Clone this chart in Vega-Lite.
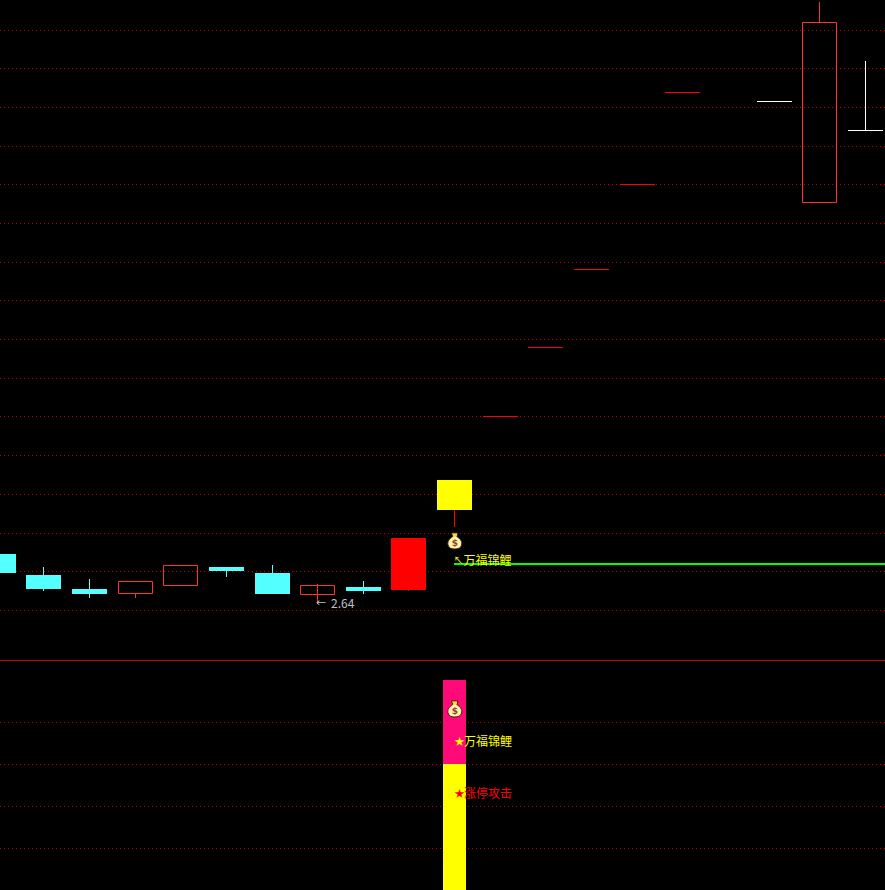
{"$schema":"https://vega.github.io/schema/vega-lite/v6.json","width":885,"height":890,"padding":0,"autosize":"none","background":"#000000","config":{"view":{"stroke":null}},
"datasets":{
"grid":[{"level":859.5},{"level":821.5},{"level":782.5},{"level":743.5},{"level":705.5},{"level":666.5},{"level":627.5},{"level":589.5},{"level":550.5},{"level":511.5},{"level":473.5},{"level":434.5},{"level":395.5},{"level":356.5},{"level":318.5},{"level":279.5},{"level":167.5},{"level":125.5},{"level":83.5},{"level":41.5}],
"candles":[
{"pos":-1.5,"open":336,"close":317,"kind":"fall"},
{"pos":43.5,"open":315,"close":301,"high":323,"low":299,"kind":"fall"},
{"pos":89.5,"open":301,"close":296,"high":311,"low":292,"kind":"fall"},
{"pos":135.5,"open":296.5,"close":308.5,"high":297,"low":292,"kind":"rise"},
{"pos":180.5,"open":304.5,"close":324.5,"kind":"rise"},
{"pos":226.5,"open":323,"close":319,"high":323,"low":313,"kind":"fall"},
{"pos":272.5,"open":317,"close":296,"high":325,"low":317,"kind":"fall"},
{"pos":317.5,"open":295.5,"close":304.5,"high":306,"low":286,"kind":"rise"},
{"pos":363.5,"open":303,"close":299,"high":309,"low":296,"kind":"fall"},
{"pos":408.5,"open":300,"close":352,"high":300,"low":299,"kind":"limit"},
{"pos":454.5,"open":380,"close":410,"kind":"signal"},
{"pos":454.5,"high":380,"low":363,"kind":"limit"},
{"pos":500.5,"open":473,"close":474,"kind":"limit"},
{"pos":545.5,"open":542,"close":543,"kind":"limit"},
{"pos":591.5,"open":620,"close":621,"kind":"limit"},
{"pos":637.5,"open":705,"close":706,"kind":"limit"},
{"pos":682.5,"open":797,"close":798,"kind":"limit"},
{"pos":774.5,"open":788,"close":789,"kind":"flat"},
{"pos":819.5,"open":687.5,"close":867.5,"high":888,"low":868,"kind":"rise"},
{"pos":865.5,"open":759,"close":760,"high":829,"low":760,"kind":"flat"}],
"volume":[{"pos":454.5,"base":126,"top":210,"kind":"pink"},{"pos":454.5,"base":0,"top":126,"kind":"signal"}],
"labels":[{"pos":331,"level":286,"label":"2.64","kind":"note"},{"pos":463.5,"level":329,"label":"万福锦鲤","kind":"signal"},{"pos":464,"level":148,"label":"万福锦鲤","kind":"signal"},{"pos":464,"level":96,"label":"涨停攻击","kind":"limit"}],
"glyphs":[{"pos":316,"level":286,"label":"←","kind":"note"},{"pos":453.5,"level":329,"label":"↖","kind":"signal"},{"pos":454.5,"level":148,"label":"★","kind":"signal"},{"pos":454.5,"level":96,"label":"★","kind":"limit"}],
"bags":[{"pos":454.8,"level":349},{"pos":454.8,"level":181}]
},
"layer":[
{"data":{"name":"grid"},"mark":{"type":"rule","stroke":"#c00000","strokeWidth":1,"strokeDash":[1,3]},"encoding":{"y":{"field":"level","type":"quantitative","scale":{"domain":[0,890],"nice":false,"zero":false},"axis":null}}},
{"data":{"values":[{"level":229.5}]},"mark":{"type":"rule","stroke":"#c80000","strokeWidth":1},"encoding":{"y":{"field":"level","type":"quantitative"}}},
{"data":{"values":[{"pos":454,"end":885,"level":326,"kind":"trend"}]},"mark":{"type":"rule","strokeWidth":2},"encoding":{"x":{"field":"pos","type":"quantitative","scale":{"domain":[0,885],"nice":false,"zero":false,"padding":0},"axis":null},"x2":{"field":"end"},"y":{"field":"level","type":"quantitative"},"color":{"field":"kind","type":"nominal"}}},
{"data":{"name":"candles"},"transform":[{"filter":"isValid(datum.high)"}],"mark":{"type":"rule","strokeWidth":1,"clip":true},"encoding":{"x":{"field":"pos","type":"quantitative","scale":{"domain":[0,885],"nice":false,"zero":false,"padding":0}},"y":{"field":"high","type":"quantitative"},"y2":{"field":"low"},"color":{"field":"kind","type":"nominal"}}},
{"data":{"name":"candles"},"transform":[{"filter":"isValid(datum.open) && datum.kind !== 'rise'"}],"mark":{"type":"bar","size":35,"clip":true},"encoding":{"x":{"field":"pos","type":"quantitative","scale":{"domain":[0,885],"nice":false,"zero":false,"padding":0}},"y":{"field":"open","type":"quantitative"},"y2":{"field":"close"},"color":{"field":"kind","type":"nominal"}}},
{"data":{"name":"candles"},"transform":[{"filter":"datum.kind === 'rise'"}],"mark":{"type":"bar","size":34,"filled":false,"strokeWidth":1,"clip":true},"encoding":{"x":{"field":"pos","type":"quantitative","scale":{"domain":[0,885],"nice":false,"zero":false,"padding":0}},"y":{"field":"open","type":"quantitative"},"y2":{"field":"close"},"color":{"field":"kind","type":"nominal"}}},
{"data":{"name":"volume"},"mark":{"type":"bar","size":23},"encoding":{"x":{"field":"pos","type":"quantitative","scale":{"domain":[0,885],"nice":false,"zero":false,"padding":0}},"y":{"field":"base","type":"quantitative"},"y2":{"field":"top"},"color":{"field":"kind","type":"nominal","legend":null,"scale":{"domain":["fall","rise","limit","signal","flat","pink","note","trend"],"range":["#54ffff","#ff3232","#ff0000","#ffff00","#ffffff","#ff0a78","#c0c0c0","#00ff00"]}}}},
{"data":{"name":"labels"},"mark":{"type":"text","align":"left","baseline":"middle","font":"Noto Sans CJK SC","fontSize":12},"encoding":{"x":{"field":"pos","type":"quantitative","scale":{"domain":[0,885],"nice":false,"zero":false,"padding":0}},"y":{"field":"level","type":"quantitative"},"text":{"field":"label"},"color":{"field":"kind","type":"nominal"}}},
{"data":{"name":"glyphs"},"mark":{"type":"text","align":"left","baseline":"middle","font":"Noto Sans CJK SC","fontSize":10},"encoding":{"x":{"field":"pos","type":"quantitative","scale":{"domain":[0,885],"nice":false,"zero":false,"padding":0}},"y":{"field":"level","type":"quantitative"},"text":{"field":"label"},"color":{"field":"kind","type":"nominal"}}},
{"data":{"name":"bags"},"mark":{"type":"point","filled":true,"size":256,"fill":"#fff0b4","stroke":"#3c2000","strokeWidth":1,"opacity":1,"shape":"M-0.4,-1 L0.4,-1 L0.25,-0.55 C0.7,-0.3 0.95,0.1 0.85,0.5 C0.75,0.9 0.4,1 0,1 C-0.4,1 -0.75,0.9 -0.85,0.5 C-0.95,0.1 -0.7,-0.3 -0.25,-0.55 Z"},"encoding":{"x":{"field":"pos","type":"quantitative","scale":{"domain":[0,885],"nice":false,"zero":false,"padding":0}},"y":{"field":"level","type":"quantitative"}}},
{"data":{"name":"bags"},"mark":{"type":"point","filled":true,"size":256,"fill":"#ffd820","opacity":1,"strokeWidth":0,"shape":"M-0.3,-0.9 L0.3,-0.9 L0.18,-0.55 L-0.18,-0.55 Z"},"encoding":{"x":{"field":"pos","type":"quantitative","scale":{"domain":[0,885],"nice":false,"zero":false,"padding":0}},"y":{"field":"level","type":"quantitative"}}},
{"data":{"name":"bags"},"mark":{"type":"text","text":"$","font":"DejaVu Sans","fontWeight":"bold","fontSize":9,"color":"#8a4a20","align":"center","baseline":"middle","dy":2},"encoding":{"x":{"field":"pos","type":"quantitative","scale":{"domain":[0,885],"nice":false,"zero":false,"padding":0}},"y":{"field":"level","type":"quantitative"}}}
]}
